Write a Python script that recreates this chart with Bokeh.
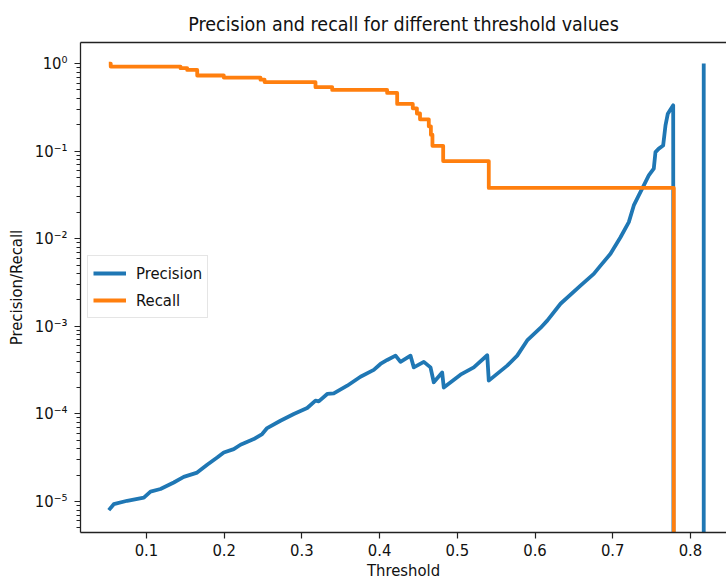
import numpy as np
from bokeh.plotting import figure
from bokeh.models import (Range1d, LinearAxis, FixedTicker, LogTicker,
                          CustomJSTickFormatter, Legend, LegendItem)
from bokeh.embed import file_html
from bokeh.resources import INLINE

# ---------------- data ----------------
prec_thr = [0.0515, 0.0579, 0.0752, 0.0966, 0.1052, 0.1180, 0.1351, 0.1480, 0.1652,
            0.1781, 0.1910, 0.1995, 0.2123, 0.2210, 0.2381, 0.2489, 0.2553, 0.2724,
            0.2896, 0.3068, 0.3175, 0.3217, 0.3326, 0.3410, 0.3583, 0.3754, 0.3925,
            0.4011, 0.4098, 0.4205, 0.4269, 0.4398, 0.4440, 0.4569, 0.4655, 0.4697,
            0.4805, 0.4826, 0.5041, 0.5212, 0.5385, 0.5405, 0.5642, 0.5771, 0.5899,
            0.6070, 0.6160, 0.6328, 0.6585, 0.6756, 0.6843, 0.6971, 0.7100, 0.7207,
            0.7271, 0.7335, 0.7400, 0.7464, 0.7528, 0.7550, 0.7593, 0.7649, 0.7679,
            0.7709, 0.7778, 0.7786, 0.8171, 0.8171]
precision = [7.97e-6, 9.33e-6, 1.02e-5, 1.11e-5, 1.30e-5, 1.39e-5, 1.65e-5, 1.91e-5, 2.14e-5,
             2.63e-5, 3.18e-5, 3.63e-5, 3.97e-5, 4.45e-5, 5.16e-5, 5.89e-5, 6.90e-5, 8.36e-5,
             9.98e-5, 1.17e-4, 1.42e-4, 1.39e-4, 1.69e-4, 1.72e-4, 2.10e-4, 2.66e-4, 3.18e-4,
             3.72e-4, 4.13e-4, 4.63e-4, 3.93e-4, 4.63e-4, 3.40e-4, 3.93e-4, 3.40e-4, 2.30e-4,
             2.98e-4, 2.00e-4, 2.81e-4, 3.40e-4, 4.68e-4, 2.40e-4, 3.56e-4, 4.63e-4, 6.90e-4,
             9.59e-4, 1.17e-3, 1.81e-3, 2.92e-3, 3.97e-3, 4.94e-3, 6.73e-3, 1.04e-2, 1.55e-2,
             2.40e-2, 3.12e-2, 4.06e-2, 5.28e-2, 6.30e-2, 9.76e-2, 0.107, 0.116, 0.197,
             0.268, 0.334, 0.0, 0.0, 1.0]

recall_thr = [0.0515, 0.0540, 0.1438, 0.1524, 0.1653, 0.1995, 0.2467, 0.2520, 0.3175,
              0.3390, 0.4097, 0.4226, 0.4427, 0.4480, 0.4520, 0.4633, 0.4660, 0.4680,
              0.4818, 0.5405, 0.7786, 0.8171]
recall = [1.0, 0.923, 0.885, 0.846, 0.731, 0.692, 0.654, 0.615, 0.538,
          0.500, 0.462, 0.346, 0.308, 0.269, 0.231, 0.192, 0.154, 0.115,
          0.077, 0.038, 0.0, 0.0]

title_text = "Precision and recall for different threshold values"
x_label = "Threshold"
y_label = "Precision/Recall"
series_names = ["Precision", "Recall"]
x_ticks = [0.1, 0.2, 0.3, 0.4, 0.5, 0.6, 0.7, 0.8]

# ---------------- figure ----------------
FONT = "DejaVu Sans Condensed, DejaVu Sans"
BLUE = "#1f77b4"
ORANGE = "#ff7f0e"
FS = "16.5px"

p = figure(width=726, height=584, y_axis_type="log",
           x_range=Range1d(0.0151, 0.8464), y_range=Range1d(4.43e-6, 1.74),
           output_backend="svg", toolbar_location=None,
           min_border_left=80, min_border_right=0, min_border_top=42,
           min_border_bottom=52)
p.background_fill_color = "white"
p.border_fill_color = "white"
p.outline_line_color = None
p.xgrid.visible = False
p.ygrid.visible = False

p.title.text = title_text
p.title.align = "center"
p.title.text_font = FONT
p.title.text_font_size = "19.5px"
p.title.text_font_style = "normal"
p.title.text_color = "#111111"
p.title.standoff = 13

# floor for zero values on the log axis (they fall far below the frame)
prec_plot = np.maximum(np.array(precision), 1e-12)
rec_plot = np.maximum(np.array(recall), 1e-12)

r1 = p.line(prec_thr, prec_plot, line_color=BLUE, line_width=3.8, line_join="round")
r2 = p.step(recall_thr, rec_plot, mode="after", line_color=ORANGE, line_width=3.8,
            line_join="round")

# axes
xa = p.xaxis[0]
xa.ticker = FixedTicker(ticks=x_ticks)
xa.axis_label = x_label
ya = p.yaxis[0]
ya.ticker = LogTicker(num_minor_ticks=10, desired_num_ticks=6)
ya.axis_label = y_label
ya.formatter = CustomJSTickFormatter(code="""
const e = Math.round(Math.log10(tick));
const sup = {"-":"\u207b","0":"\u2070","1":"\u00b9","2":"\u00b2","3":"\u00b3","4":"\u2074","5":"\u2075","6":"\u2076","7":"\u2077","8":"\u2078","9":"\u2079"};
return "10" + String(e).split("").map(c => sup[c]).join("");
""")

for ax in (xa, ya):
    ax.axis_line_color = "#222222"
    ax.axis_line_width = 1.3
    ax.major_tick_line_color = "#222222"
    ax.major_tick_line_width = 1.2
    ax.major_tick_in = 0
    ax.major_tick_out = 6
    ax.minor_tick_in = 0
    ax.minor_tick_out = 4
    ax.minor_tick_line_color = "#222222"
    ax.major_label_text_font = FONT
    ax.major_label_text_font_size = FS
    ax.major_label_text_color = "#111111"
    ax.axis_label_text_font = FONT
    ax.axis_label_text_font_size = FS
    ax.axis_label_text_font_style = "normal"
    ax.axis_label_text_color = "#111111"
xa.minor_tick_line_color = None
xa.major_label_standoff = 5
xa.axis_label_standoff = 2
ya.major_label_standoff = 7
ya.axis_label_standoff = 6

# top spine
top = LinearAxis(ticker=FixedTicker(ticks=[]), axis_line_color="#222222",
                 axis_line_width=1.3, major_tick_line_color=None,
                 minor_tick_line_color=None, major_label_text_font_size="0px")
p.add_layout(top, "above")

legend = Legend(items=[LegendItem(label=series_names[0], renderers=[r1]),
                       LegendItem(label=series_names[1], renderers=[r2])],
                location=(7, 214), padding=5, spacing=3, margin=0,
                glyph_width=33, glyph_height=24, label_standoff=10,
                label_text_font=FONT, label_text_font_size=FS,
                label_text_color="#111111",
                border_line_color="#cccccc", border_line_width=1,
                background_fill_color="white", background_fill_alpha=0.8)
p.add_layout(legend)

open("out.html", "w").write(file_html(p, INLINE))
